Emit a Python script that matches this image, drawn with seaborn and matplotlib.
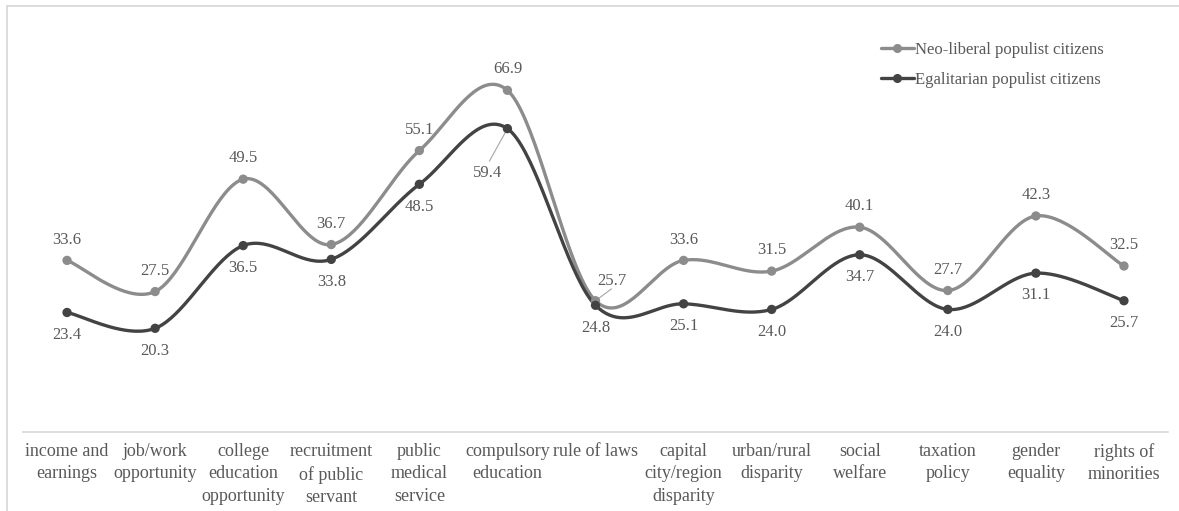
import numpy as np
import pandas as pd
import matplotlib
matplotlib.use("Agg")
import matplotlib.pyplot as plt
from matplotlib.lines import Line2D
import seaborn as sns

categories = [
    "income and\nearnings", "job/work\nopportunity", "college\neducation\nopportunity",
    "recruitment\nof public\nservant", "public\nmedical\nservice", "compulsory\neducation",
    "rule of laws", "capital\ncity/region\ndisparity", "urban/rural\ndisparity",
    "social\nwelfare", "taxation\npolicy", "gender\nequality", "rights of\nminorities",
]
neo_liberal = [33.6, 27.5, 49.5, 36.7, 55.1, 66.9, 25.7, 33.6, 31.5, 40.1, 27.7, 42.3, 32.5]
egalitarian = [23.4, 20.3, 36.5, 33.8, 48.5, 59.4, 24.8, 25.1, 24.0, 34.7, 24.0, 31.1, 25.7]
series_names = ["Neo-liberal populist citizens", "Egalitarian populist citizens"]

TEXT = "#595959"
LEADER = "#a6a6a6"
COLORS = {series_names[0]: "#8c8c8c", series_names[1]: "#434343"}

sns.set_theme(style="white")
plt.rcParams["font.family"] = ["Liberation Serif", "DejaVu Serif"]

df = pd.DataFrame({
    "x": list(range(len(categories))) * 2,
    "value": neo_liberal + egalitarian,
    "series": [series_names[0]] * len(categories) + [series_names[1]] * len(categories),
})


def smooth_curve(xs, ys, n=40):
    """Cardinal (Catmull-Rom) Bezier smoothing through every point."""
    xs = np.asarray(xs, float)
    ys = np.asarray(ys, float)
    px = np.concatenate([[xs[0]], xs, [xs[-1]]])
    py = np.concatenate([[ys[0]], ys, [ys[-1]]])
    out_x, out_y = [], []
    t = np.linspace(0, 1, n)
    for i in range(1, len(px) - 2):
        p0 = np.array([px[i], py[i]])
        p3 = np.array([px[i + 1], py[i + 1]])
        c1 = p0 + (np.array([px[i + 1], py[i + 1]]) - np.array([px[i - 1], py[i - 1]])) / 6
        c2 = p3 - (np.array([px[i + 2], py[i + 2]]) - np.array([px[i], py[i]])) / 6
        b = ((1 - t) ** 3)[:, None] * p0 + (3 * (1 - t) ** 2 * t)[:, None] * c1 \
            + (3 * (1 - t) * t ** 2)[:, None] * c2 + (t ** 3)[:, None] * p3
        out_x.extend(b[:, 0])
        out_y.extend(b[:, 1])
    return np.array(out_x), np.array(out_y)


fig = plt.figure(figsize=(11.79, 5.11), dpi=100)
ax = fig.add_axes([23 / 1179, 1 - 432 / 511, (1168 - 23) / 1179, (432 - 23.4) / 511])

for name in series_names:
    sub = df[df.series == name]
    sx, sy = smooth_curve(sub.x, sub.value)
    ax.plot(sx, sy, color=COLORS[name], lw=2.4, solid_capstyle="round", zorder=2)

sns.scatterplot(data=df, x="x", y="value", hue="series", palette=COLORS,
                s=45, edgecolor="none", legend=False, ax=ax, zorder=3)

LABEL_FS = 12


def leader(i, v, dx, dy):
    ax.annotate("", xy=(i, v), xytext=(dx, dy), textcoords="offset points",
                arrowprops=dict(arrowstyle="-", color=LEADER, lw=0.8,
                                shrinkA=0, shrinkB=3), zorder=1)


# value labels: first series above its points, second series below
for i, v in enumerate(neo_liberal):
    if i == 6:
        leader(i, v, 11.5, 8.5)
        ax.annotate(f"{v:.1f}", xy=(i, v), xytext=(12, 14), textcoords="offset points",
                    ha="center", va="center", fontsize=LABEL_FS, color=TEXT)
    else:
        ax.annotate(f"{v:.1f}", xy=(i, v), xytext=(0, 15), textcoords="offset points",
                    ha="center", va="center", fontsize=LABEL_FS, color=TEXT)
for i, v in enumerate(egalitarian):
    if i == 5:
        leader(i, v, -13, -23.5)
        ax.annotate(f"{v:.1f}", xy=(i, v), xytext=(-14, -32), textcoords="offset points",
                    ha="center", va="center", fontsize=LABEL_FS, color=TEXT)
    else:
        ax.annotate(f"{v:.1f}", xy=(i, v), xytext=(0, -16), textcoords="offset points",
                    ha="center", va="center", fontsize=LABEL_FS, color=TEXT)

ax.set_xlim(-0.5, len(categories) - 0.5)
ax.set_ylim(0, 80)
ax.set_xticks(range(len(categories)))
ax.set_xticklabels(categories, fontsize=13, color=TEXT, linespacing=1.4)
ax.tick_params(axis="x", length=0, pad=8)
ax.set_yticks([])
ax.set_xlabel("")
ax.set_ylabel("")
for side in ["top", "right", "left"]:
    ax.spines[side].set_visible(False)
ax.spines["bottom"].set_color("#d9d9d9")
ax.spines["bottom"].set_linewidth(1.2)

handles = [Line2D([], [], color=COLORS[n], lw=2.4, marker="o", markersize=5.5) for n in series_names]
leg = fig.legend(handles, series_names, loc="upper left",
                 bbox_to_anchor=(881 / 1179, 1 - 42 / 511), frameon=False,
                 fontsize=12, handlelength=1.95, handletextpad=0.1,
                 labelspacing=0.85, borderpad=0, borderaxespad=0)
for t in leg.get_texts():
    t.set_color(TEXT)

# chart area border (left and top edges)
fig.add_artist(Line2D([7 / 1179, 7 / 1179], [0, 1 - 6 / 511], transform=fig.transFigure,
                      color="#d9d9d9", lw=1.3))
fig.add_artist(Line2D([7 / 1179, 1], [1 - 6 / 511, 1 - 6 / 511], transform=fig.transFigure,
                      color="#d9d9d9", lw=1.3))

fig.savefig("out.png", dpi=100, facecolor="white")
